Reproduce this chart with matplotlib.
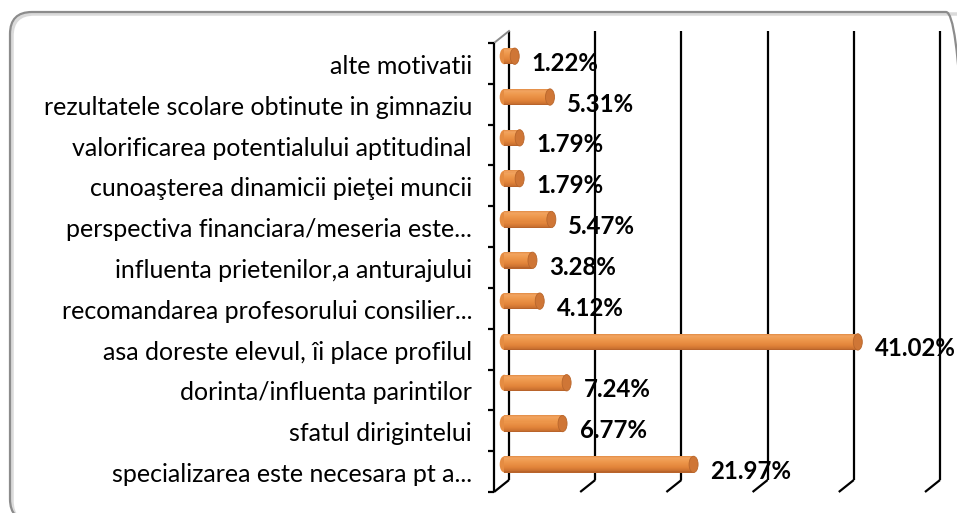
import matplotlib
matplotlib.use('Agg')
import matplotlib.pyplot as plt
import matplotlib.transforms as mtransforms
from matplotlib.patches import FancyBboxPatch, Ellipse
import numpy as np

# ---------------- data ----------------
categories = [
    "alte motivatii",
    "rezultatele scolare obtinute in gimnaziu",
    "valorificarea potentialului aptitudinal",
    "cunoaşterea dinamicii pieţei muncii",
    "perspectiva financiara/meseria este...",
    "influenta prietenilor,a anturajului",
    "recomandarea profesorului consilier...",
    "asa doreste elevul, îi place profilul",
    "dorinta/influenta parintilor",
    "sfatul dirigintelui",
    "specializarea este necesara pt a...",
]
values = [1.22, 5.31, 1.79, 1.79, 5.47, 3.28, 4.12, 41.02, 7.24, 6.77, 21.97]
value_labels = ["1.22%", "5.31%", "1.79%", "1.79%", "5.47%", "3.28%",
                "4.12%", "41.02%", "7.24%", "6.77%", "21.97%"]
x_max = 50
x_step = 10

# ---------------- layout ----------------
W, H, DPI = 957, 513, 100
fig = plt.figure(figsize=(W / DPI, H / DPI), dpi=DPI)
fig.patch.set_facecolor('white')

# back wall of the 3-D plot area (image pixels)
bx0, bx1 = 509, 940
by0, by1 = 31, 480
ax = fig.add_axes([bx0 / W, 1 - by1 / H, (bx1 - bx0) / W, (by1 - by0) / H])
n = len(categories)
ax.set_xlim(0, x_max)
ax.set_ylim(n - 0.5, -0.5)
ax.axis('off')

px_x = (bx1 - bx0) / x_max          # pixels per % unit
px_y = (by1 - by0) / n              # pixels per category
depth_px = (15, 12)                 # front shift (left, down) in pixels
dx = -depth_px[0] / px_x
dy = depth_px[1] / px_y
mx, my = dx * 0.32, dy * 0.4        # bars sit inside the depth

ln = dict(color='black', lw=1.6, clip_on=False, solid_capstyle='butt')

# back wall gridlines + floor diagonals
for xv in np.arange(0, x_max + 0.01, x_step):
    ax.plot([xv, xv], [-0.5, n - 0.5], zorder=1, **ln)
    ax.plot([xv, xv + dx], [n - 0.5, n - 0.5 + dy], zorder=1, **ln)

# left wall top edge (grey) and front axis
ax.plot([0, dx], [-0.5, -0.5 + dy], color='#8a8a8a', lw=1.4, clip_on=False, zorder=1)
ax.plot([dx, dx], [-0.5 + dy, n - 0.5 + dy], zorder=1, **ln)
tick_len = 6 / px_x
for k in range(n + 1):
    ax.plot([dx, dx - tick_len], [k - 0.5 + dy, k - 0.5 + dy], zorder=1, **ln)

# ---------------- cylinder bars ----------------
bar_h = 0.40
stops_pos = [0.0, 0.12, 0.35, 0.7, 0.9, 1.0]   # from top to bottom
stops_col = np.array([
    [0xE0, 0x8A, 0x44],
    [0xF2, 0xA4, 0x60],
    [0xEE, 0x98, 0x4C],
    [0xE2, 0x84, 0x3A],
    [0xCC, 0x72, 0x30],
    [0xB0, 0x5E, 0x28],
]) / 255.0
n_strips = 16
cap_w = 9 / px_x

ypos = np.arange(n) + my
for i, v in enumerate(values):
    yc = ypos[i]
    # left rounded end
    ax.add_patch(Ellipse((mx, yc), cap_w, bar_h * 0.98, facecolor='#E58C42',
                         edgecolor='none', zorder=3, clip_on=False))
    for s in range(n_strips):
        t = (s + 0.5) / n_strips
        col = [np.interp(t, stops_pos, stops_col[:, c]) for c in range(3)]
        top = yc - bar_h / 2 + s * bar_h / n_strips
        ax.barh(top + bar_h / n_strips / 2, v, height=bar_h / n_strips * 1.08,
                left=mx, color=col, edgecolor='none', zorder=4, clip_on=False)
    # right end cap
    ax.add_patch(Ellipse((mx + v, yc), cap_w, bar_h, facecolor='#CF7636',
                         edgecolor='#B8662C', lw=0.6, zorder=5, clip_on=False))
    ax.annotate(value_labels[i], xy=(mx + v, yc), xytext=(17, -7),
                textcoords='offset pixels', ha='left', va='center',
                fontsize=17.3, fontweight='bold', family='Lato',
                color='black', zorder=6, annotation_clip=False)

# category labels
for i, c in enumerate(categories):
    ax.annotate(c, xy=(0, i), xytext=(-37, -15), textcoords='offset pixels',
                ha='right', va='center', fontsize=18, family='Lato',
                color='black', annotation_clip=False)

# ---------------- chart border ----------------
shadow = FancyBboxPatch((12, H - 523), 968, 509,
                        boxstyle='round,pad=0,rounding_size=22',
                        transform=mtransforms.IdentityTransform(),
                        facecolor='none', edgecolor='#dadada', lw=2.5, zorder=0)
border = FancyBboxPatch((10, H - 521), 958, 509,
                        boxstyle='round,pad=0,rounding_size=22',
                        transform=mtransforms.IdentityTransform(),
                        facecolor='none', edgecolor='#8c8c8c', lw=1.6, zorder=0)
fig.add_artist(shadow)
fig.add_artist(border)

fig.savefig('out.png', dpi=DPI)
